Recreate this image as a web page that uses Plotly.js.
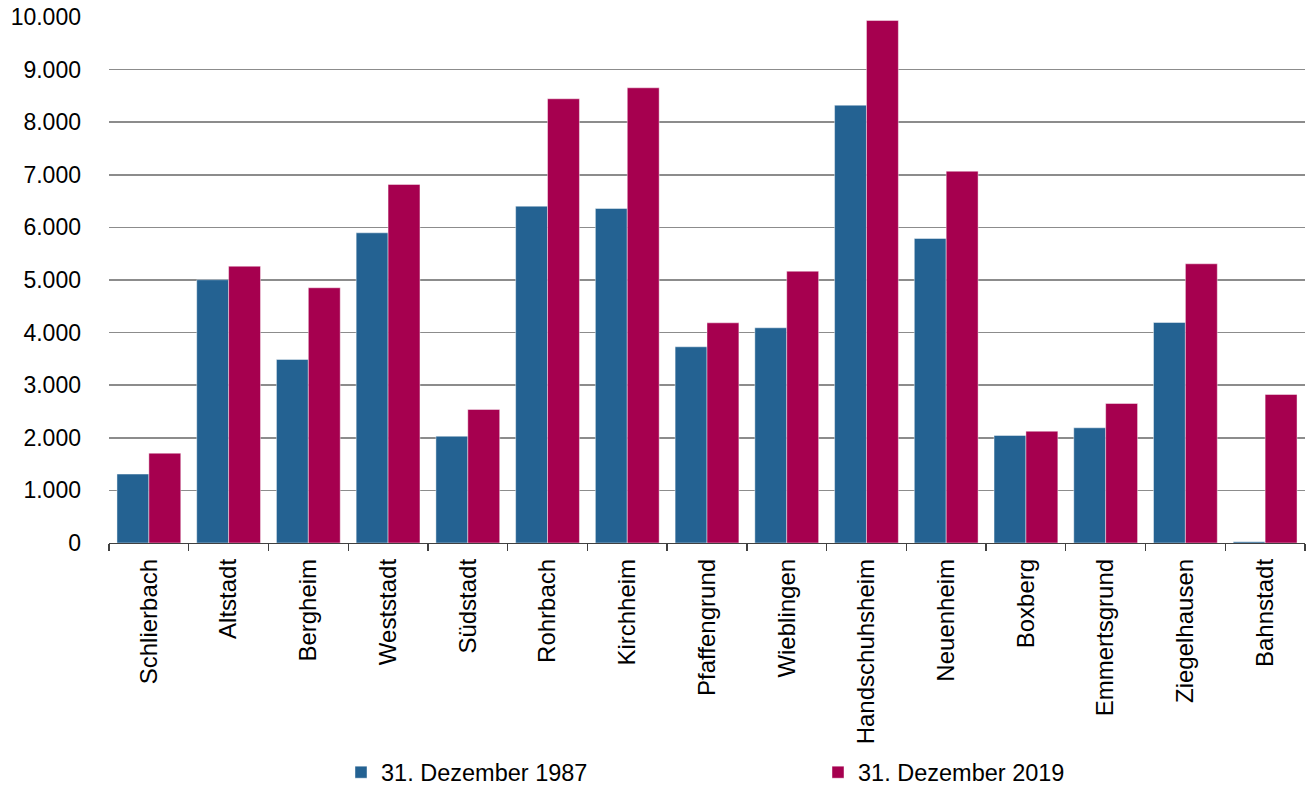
<!DOCTYPE html>
<html>
<head>
<meta charset="utf-8">
<script src="https://cdn.plot.ly/plotly-3.0.1.min.js"></script>
<style>html,body{margin:0;padding:0;background:#fff;}#chart{width:1307px;height:789px;}</style>
</head>
<body>
<div id="chart"></div>
<script>
const categories = ["Schlierbach","Altstadt","Bergheim","Weststadt","Südstadt","Rohrbach","Kirchheim","Pfaffengrund","Wieblingen","Handschuhsheim","Neuenheim","Boxberg","Emmertsgrund","Ziegelhausen","Bahnstadt"];
const values1987 = [1310, 5005, 3489, 5897, 2030, 6403, 6359, 3730, 4091, 8323, 5789, 2044, 2190, 4192, 25];
const values2019 = [1707, 5262, 4852, 6816, 2538, 8445, 8654, 4186, 5167, 9933, 7068, 2125, 2652, 5308, 2823];
const seriesNames = ["31. Dezember 1987", "31. Dezember 2019"];
const yTicks = [0,1000,2000,3000,4000,5000,6000,7000,8000,9000,10000];

const W = 1307, H = 789;
const mL = 109, mR = 2, mT = 17.3, mB = 245.5;
const plotH = H - mT - mB, plotW = W - mL - mR;

const fam = "Liberation Sans, Arial, sans-serif";
const font = {family: fam, size: 23, color: "#000"};
const xFont = {family: fam, size: 24, color: "#000"};
const legFont = {family: fam, size: 23.5, color: "#000"};

const traces = [
  {type: "bar", x: categories, y: values1987, name: seriesNames[0],
   marker: {color: "#246292", line: {color: "rgba(255,255,255,0.55)", width: 0.8}}, hoverinfo: "none"},
  {type: "bar", x: categories, y: values2019, name: seriesNames[1],
   marker: {color: "#A6004F", line: {color: "rgba(255,255,255,0.55)", width: 0.8}}, hoverinfo: "none"}
];

const layout = {
  width: W, height: H,
  margin: {l: mL, r: mR, t: mT, b: mB, pad: 0, autoexpand: false},
  paper_bgcolor: "#fff", plot_bgcolor: "#fff",
  font: font,
  separators: ",.",
  barmode: "group", bargap: 0.2, bargroupgap: 0,
  showlegend: true,
  legend: {
    orientation: "h", xref: "paper", yref: "paper",
    x: (341 - mL) / plotW, xanchor: "left",
    y: -(773 - (H - mB)) / plotH, yanchor: "middle",
    entrywidth: 432, entrywidthmode: "pixels",
    font: legFont, bgcolor: "rgba(0,0,0,0)", traceorder: "normal"
  },
  xaxis: {
    type: "category", automargin: false,
    showline: true, linecolor: "#404040", linewidth: 1.3,
    ticks: "outside", tickson: "boundaries", ticklen: 7, tickcolor: "#404040", tickwidth: 1.3,
    tickangle: -90, tickfont: xFont, ticklabelstandoff: 5, showgrid: false, zeroline: false
  },
  yaxis: {
    range: [0, 10000], autorange: false, automargin: false,
    tickvals: yTicks, tickformat: ",d",
    showgrid: true, gridcolor: "#8c8c8c", gridwidth: 1.6,
    showline: false, zeroline: false, ticks: "", ticklabelstandoff: 27,
    tickfont: font
  }
};

Plotly.newPlot("chart", traces, layout, {displayModeBar: false, staticPlot: true});
</script>
</body>
</html>
